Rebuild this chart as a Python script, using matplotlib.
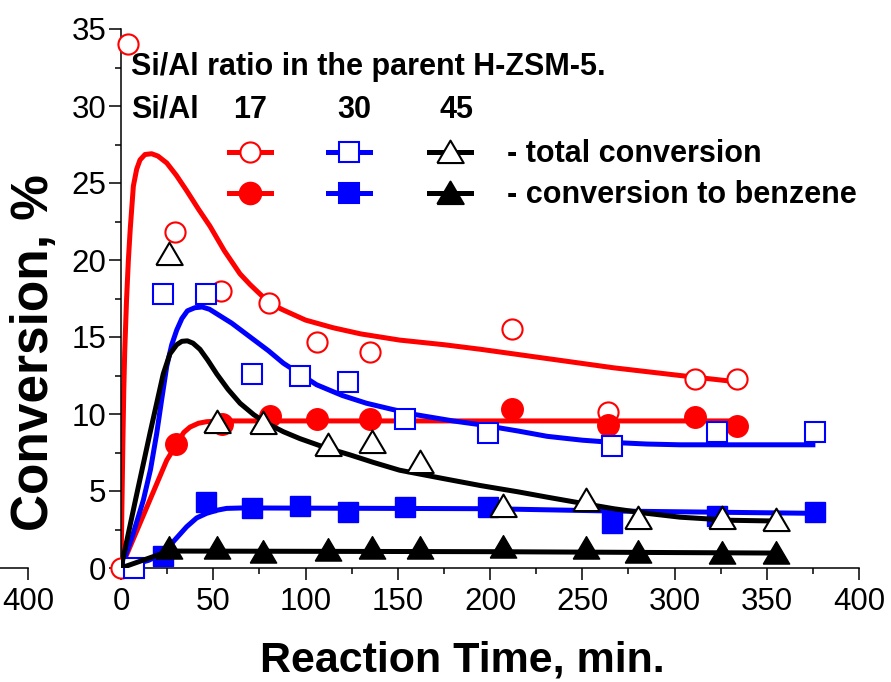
import matplotlib
matplotlib.use('Agg')
import matplotlib.pyplot as plt
from matplotlib.lines import Line2D
import numpy as np

plt.rcParams['font.family'] = ['Liberation Sans', 'DejaVu Sans']

# measured points, Si/Al = 17, 30, 45
t_17_tot = [0, 4, 29, 54, 80, 106, 135, 212, 264, 311, 334]
c_17_tot = [0, 34.0, 21.8, 18.0, 17.2, 14.7, 14.0, 15.5, 10.1, 12.3, 12.3]
t_17_bz = [30, 55, 81, 106, 135, 212, 264, 311, 334]
c_17_bz = [8.05, 9.35, 9.9, 9.65, 9.7, 10.35, 9.3, 9.8, 9.2]

t_30_tot = [7, 23, 46, 71, 97, 123, 154, 199, 266, 323, 376]
c_30_tot = [0, 17.8, 17.8, 12.6, 12.5, 12.1, 9.7, 8.75, 7.9, 8.85, 8.85]
t_30_bz = [23, 46, 71, 97, 123, 154, 199, 266, 323, 376]
c_30_bz = [0.8, 4.3, 3.9, 4.0, 3.65, 3.95, 3.95, 2.95, 3.35, 3.65]

t_45 = [26, 52, 77, 112, 136, 162, 207, 252, 280, 326, 355]
c_45_tot = [20.4, 9.5, 9.4, 8.0, 8.2, 6.9, 4.0, 4.4, 3.25, 3.25, 3.1]
c_45_bz = [1.28, 1.28, 1.06, 1.17, 1.28, 1.28, 1.38, 1.28, 1.06, 0.95, 0.95]

# fitted curves
f17_tot_t = [0, 0.5, 1, 1.5, 2, 3, 4, 5, 6.7, 8.5, 10.3, 13, 16.6, 20, 24.8, 30, 35.6, 42, 48.2, 56,
             64.5, 70, 77, 82, 88, 100, 115, 130, 151, 175, 195, 231, 267, 303, 333]
f17_tot_c = [0, 4, 8, 11.5, 14, 17.4, 20, 22, 24.8, 25.9, 26.5, 26.85, 26.9, 26.75, 26.3, 25.5, 24.5,
             23.3, 22.2, 20.6, 19.1, 18.4, 17.6, 17.1, 16.75, 16.1, 15.6, 15.2, 14.8, 14.5, 14.2,
             13.6, 13.0, 12.5, 12.1]
f17_bz_t = [0, 24.8, 30.2, 34, 37.4, 42, 46.4, 55, 334]
f17_bz_c = [0, 7.0, 8.05, 8.8, 9.15, 9.4, 9.5, 9.55, 9.55]

f30_tot_t = [0, 6, 12.1, 16, 19.3, 22, 24.8, 27.5, 30.2, 33, 36, 40, 44, 48, 52, 60, 70, 80, 88, 97,
             106, 120, 133, 147, 160, 180, 195, 215, 231, 250, 267, 285, 303, 330, 375]
f30_tot_c = [0, 2.0, 4.4, 6.4, 8.7, 10.9, 13.1, 14.5, 15.45, 16.2, 16.7, 16.9, 16.95, 16.8, 16.5,
             15.9, 15.0, 14.1, 13.3, 12.6, 11.9, 11.2, 10.7, 10.3, 9.95, 9.55, 9.3, 8.9, 8.55, 8.3,
             8.15, 8.05, 8.0, 8.0, 8.0]
f30_bz_t = [0, 15, 22.9, 29, 35.6, 41, 46.4, 52, 57.2, 66, 199, 266, 376]
f30_bz_c = [0, 0.5, 0.95, 1.8, 2.68, 3.25, 3.55, 3.75, 3.87, 3.9, 3.85, 3.7, 3.55]

f45_tot_t = [0, 8, 15.7, 22.9, 26.5, 30.2, 33, 36, 39, 42.8, 47, 51.9, 58, 64.5, 72, 79, 88, 97, 110,
             124, 137, 151, 175, 195, 215, 231, 250, 267, 285, 303, 330, 355]
f45_tot_c = [0, 4.5, 8.75, 12.6, 13.9, 14.5, 14.72, 14.75, 14.6, 14.2, 13.5, 12.6, 11.6, 10.7, 9.95,
             9.4, 8.85, 8.4, 7.85, 7.35, 6.85, 6.35, 5.8, 5.35, 4.95, 4.6, 4.2, 3.85, 3.55, 3.3, 3.1,
             3.05]
f45_bz_t = [0, 26, 200, 355]
f45_bz_c = [0, 1.1, 1.06, 0.97]

W, H = 891, 682
fig = plt.figure(figsize=(W / 100, H / 100), dpi=100)

def fx(px):
    return px / W

def fy(py):
    return 1 - py / H

ax_left, ax_right, ax_top, ax_bot = 121, 859, 29, 568
ax = fig.add_axes([fx(ax_left), fy(ax_bot), (ax_right - ax_left) / W, (ax_bot - ax_top) / H])

# stub of the neighbouring panel's x axis
ax0 = fig.add_axes([fx(28 - (ax_right - ax_left)), fy(ax_bot), (ax_right - ax_left) / W,
                    (ax_bot - ax_top) / H], zorder=-1)
ax0.set_xlim(0, 400)
ax0.set_xticks([400])
ax0.patch.set_visible(False)
for s in ['top', 'right', 'left']:
    ax0.spines[s].set_visible(False)
ax0.spines['bottom'].set_linewidth(1.1)
ax0.set_yticks([])
ax0.tick_params(axis='x', direction='out', length=8.5, width=1.1, labelsize=22.5, pad=5)

tri = [(-1, -0.8), (1, -0.8), (0, 0.9), (-1, -0.8)]
lw = 3.6
ms_c, ms_s, ms_t = 14.5, 14.5, 19

ax.plot(f17_tot_t, f17_tot_c, color='red', lw=lw, zorder=2)
ax.plot(f17_bz_t, f17_bz_c, color='red', lw=lw, zorder=2)
ax.plot(t_17_tot, c_17_tot, 'o', ms=ms_c, mfc='white', mec='red', mew=1.5, clip_on=False, zorder=3)
ax.plot(t_17_bz, c_17_bz, 'o', ms=ms_c + 1, mfc='red', mec='red', clip_on=False, zorder=3)

ax.plot(f30_tot_t, f30_tot_c, color='blue', lw=lw, zorder=4)
ax.plot(f30_bz_t, f30_bz_c, color='blue', lw=lw, zorder=4)
ax.plot(t_30_tot, c_30_tot, 's', ms=ms_s, mfc='white', mec='blue', mew=1.5, clip_on=False, zorder=5)
ax.plot(t_30_bz, c_30_bz, 's', ms=ms_s, mfc='blue', mec='blue', clip_on=False, zorder=5)

ax.plot(f45_tot_t, f45_tot_c, color='black', lw=lw, zorder=6)
ax.plot(f45_bz_t, f45_bz_c, color='black', lw=lw, zorder=6)
ax.plot(t_45, c_45_tot, marker=tri, ls='none', ms=ms_t, mfc='white', mec='black', mew=1.5,
        clip_on=False, zorder=7)
ax.plot(t_45, c_45_bz, marker=tri, ls='none', ms=ms_t, mfc='black', mec='black', clip_on=False, zorder=7)

ax.set_xlim(0, 400)
ax.set_ylim(0, 35)
ax.set_xticks(np.arange(0, 401, 50))
ax.set_xticks(np.arange(25, 400, 50), minor=True)
ax.set_yticks(np.arange(0, 36, 5))
ax.set_yticks(np.arange(2.5, 35, 5), minor=True)
for s in ['top', 'right']:
    ax.spines[s].set_visible(False)
for s in ['left', 'bottom']:
    ax.spines[s].set_linewidth(1.1)
ax.tick_params(which='major', direction='out', length=8.5, width=1.1, labelsize=22.5)
ax.tick_params(which='minor', direction='out', length=4, width=1.1)
ax.tick_params(axis='x', which='major', pad=5)
ax.tick_params(axis='y', which='major', pad=2)

fig.text(fx(462), fy(671), 'Reaction Time, min.', fontsize=31, fontweight='bold',
         ha='center', va='baseline')
fig.text(fx(35), fy(353), 'Conversion, %', fontsize=37, fontweight='bold',
         rotation=90, ha='center', va='center')

# legend block
fs = 22
fig.text(fx(131), fy(75), 'Si/Al ratio in the parent H-ZSM-5.', fontsize=fs, fontweight='bold', va='baseline')
fig.text(fx(131), fy(118), 'Si/Al', fontsize=fs, fontweight='bold', va='baseline')
for lab, cx in zip(['17', '30', '45'], [250, 354, 457]):
    fig.text(fx(cx), fy(118), lab, fontsize=fs, fontweight='bold', va='baseline', ha='center')

def handle(cx, cy, color, marker, ms, mfc):
    fig.add_artist(Line2D([fx(cx - 21), fx(cx), fx(cx + 21)], [fy(cy)] * 3, transform=fig.transFigure,
                          color=color, lw=lw, marker=marker, markevery=[1], ms=ms, mfc=mfc,
                          mec=color, mew=1.5))

handle(250, 152, 'red', 'o', ms_c, 'white')
handle(349, 152, 'blue', 's', ms_s, 'white')
handle(450, 152, 'black', tri, ms_t, 'white')
handle(250, 193, 'red', 'o', ms_c + 1, 'red')
handle(349, 193, 'blue', 's', ms_s, 'blue')
handle(450, 193, 'black', tri, ms_t, 'black')
fig.text(fx(507), fy(162), '- total conversion', fontsize=fs, fontweight='bold', va='baseline')
fig.text(fx(507), fy(203), '- conversion to benzene', fontsize=fs, fontweight='bold', va='baseline')

fig.savefig('out.png', dpi=100)
